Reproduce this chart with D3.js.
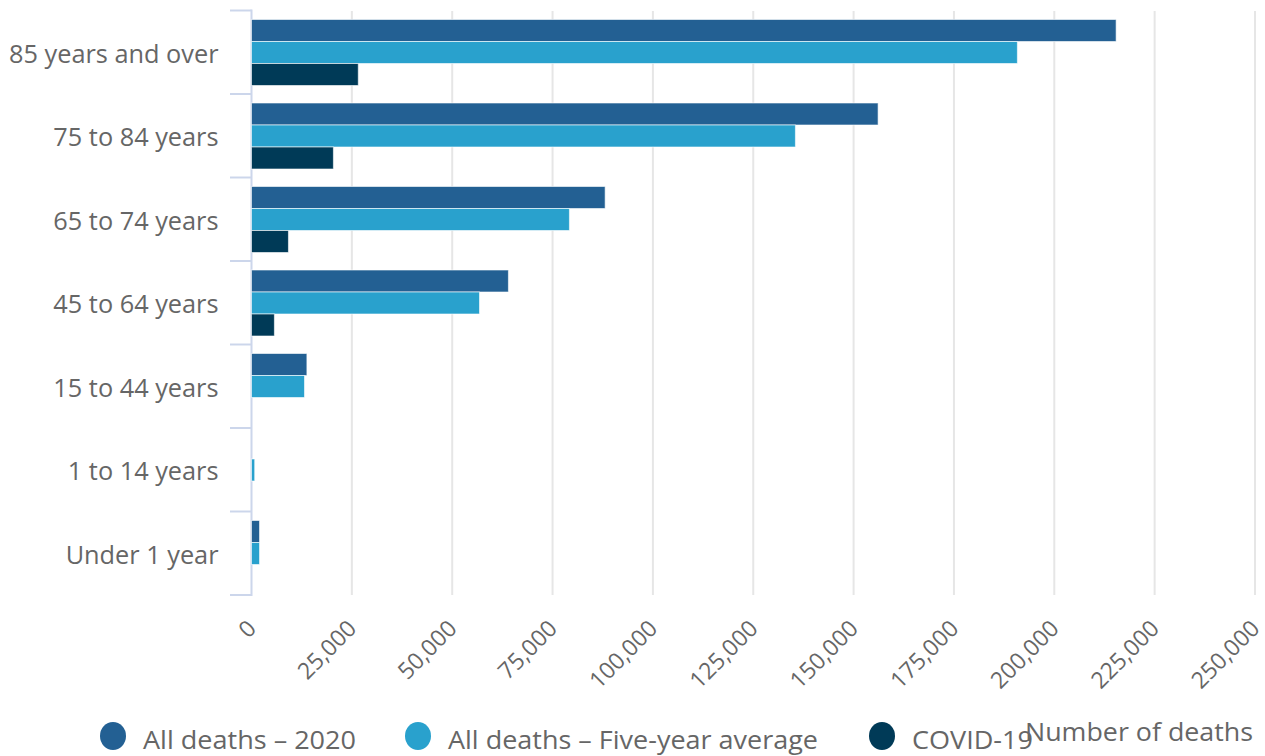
<!DOCTYPE html>
<html>
<head>
<meta charset="utf-8">
<script src="https://cdn.jsdelivr.net/npm/d3@7"></script>
<style>
  body { margin: 0; background: #fff; }
  text { font-family: "Open Sans", sans-serif; fill: #666; }
</style>
</head>
<body>
<div id="plot"></div>
<script>
// Age groups, top to bottom
var ageGroups = ["85 years and over", "75 to 84 years", "65 to 74 years", "45 to 64 years",
                 "15 to 44 years", "1 to 14 years", "Under 1 year"];
var seriesNames = ["All deaths – 2020", "All deaths – Five-year average", "COVID-19"];
var seriesColors = ["#236093", "#29a1cd", "#003a57"];

var deaths2020   = [215400, 156100, 88100, 64000, 13800, 0, 2000];
var deathsAvg    = [190800, 135500, 79200, 56800, 13200, 800, 2000];
var deathsCovid  = [26600, 20400, 9200, 5700, 0, 0, 0];

var xTicks = [0, 25000, 50000, 75000, 100000, 125000, 150000, 175000, 200000, 225000, 250000];

var width = 1265, height = 756;
var svg = d3.select("#plot").append("svg")
    .attr("width", width).attr("height", height);

var x = d3.scaleLinear().domain([0, 250000]).range([251.5, 1255]);
var y = d3.scaleBand().domain(ageGroups).range([10.5, 595]).padding(0);
var ySub = d3.scaleBand().domain([0, 1, 2]).range([9, y.bandwidth() - 8.5]).padding(0);

// Gridlines
svg.append("g").selectAll("line")
    .data(xTicks.slice(1))
    .enter().append("line")
    .attr("x1", function (d) { return x(d); })
    .attr("x2", function (d) { return x(d); })
    .attr("y1", 11).attr("y2", 595)
    .attr("stroke", "#e6e6e6").attr("stroke-width", 2);

// Y axis labels
var yAxis = d3.axisLeft(y).tickSize(0).tickPadding(33);
var gy = svg.append("g").attr("transform", "translate(" + 251.5 + ",0)").call(yAxis);
gy.select(".domain").remove();
gy.selectAll("text")
    .style("font-size", "25.3px")
    .style("font-family", "Open Sans")
    .attr("fill", "#666")
    .attr("dy", "0.42em");

// category boundary ticks and axis line
var bounds = ageGroups.map(function (d) { return y(d); }).concat([595]);
svg.append("g").selectAll("line")
    .data(bounds)
    .enter().append("line")
    .attr("x1", 230).attr("x2", 251.5)
    .attr("y1", function (d) { return d; })
    .attr("y2", function (d) { return d; })
    .attr("stroke", "#ccd6eb").attr("stroke-width", 2);
svg.append("line")
    .attr("x1", 251.5).attr("x2", 251.5).attr("y1", 9.5).attr("y2", 596)
    .attr("stroke", "#ccd6eb").attr("stroke-width", 2);

// Bars
var series = [deaths2020, deathsAvg, deathsCovid];
series.forEach(function (vals, si) {
    svg.append("g").selectAll("rect")
        .data(vals)
        .enter().append("rect")
        .attr("x", x(0))
        .attr("y", function (d, i) { return y(ageGroups[i]) + ySub(si); })
        .attr("width", function (d) { return Math.max(0, x(d) - x(0)); })
        .attr("height", ySub.bandwidth())
        .attr("fill", seriesColors[si])
        .attr("stroke", "rgba(255,255,255,0.6)")
        .attr("stroke-width", 1);
});

// X tick labels, rotated
svg.append("g").selectAll("text")
    .data(xTicks)
    .enter().append("text")
    .attr("transform", function (d) { return "translate(" + (x(d) + 6) + ",630) rotate(-45)"; })
    .attr("text-anchor", "end")
    .style("font-size", "23px")
    .text(function (d) { return d3.format(",")(d); });

// Legend
var legendX = [113, 418, 882];
var legendTextX = [143, 448, 912];
var legendLen = [213, 370, 121];
var lg = svg.append("g");
seriesNames.forEach(function (name, i) {
    lg.append("ellipse")
        .attr("cx", legendX[i]).attr("cy", 736)
        .attr("rx", 13).attr("ry", 14)
        .attr("fill", seriesColors[i]);
    lg.append("text")
        .attr("x", legendTextX[i]).attr("y", 749)
        .style("font-size", "26px")
        .attr("textLength", legendLen[i])
        .attr("lengthAdjust", "spacingAndGlyphs")
        .text(name);
});

// Axis title
svg.append("text")
    .attr("x", 1253).attr("y", 741)
    .attr("text-anchor", "end")
    .style("font-size", "25px")
    .attr("textLength", 228)
    .attr("lengthAdjust", "spacingAndGlyphs")
    .text("Number of deaths");
</script>
</body>
</html>
